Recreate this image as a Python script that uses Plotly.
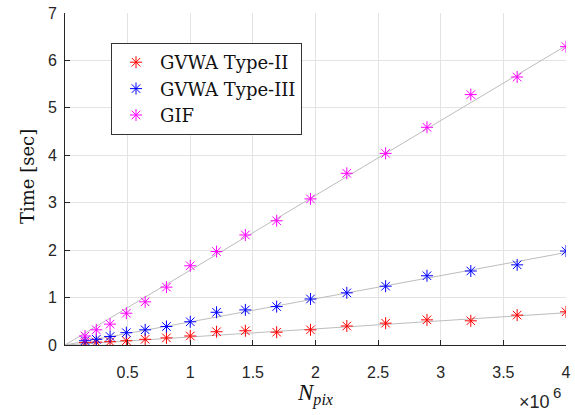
import plotly.graph_objects as go

# Data (N_pix = n^2 pixels)
n_side = [400, 500, 600, 700, 800, 900, 1000, 1100, 1200, 1300, 1400, 1500, 1600, 1700, 1800, 1900, 2000]
n_pix = [n * n for n in n_side]

t_type2 = [0.05, 0.06, 0.07, 0.09, 0.12, 0.15, 0.19, 0.28, 0.30, 0.27, 0.32, 0.40, 0.46, 0.53, 0.51, 0.63, 0.70]
t_type3 = [0.09, 0.12, 0.18, 0.26, 0.32, 0.39, 0.49, 0.69, 0.74, 0.81, 0.97, 1.10, 1.24, 1.46, 1.56, 1.69, 1.98]
t_gif = [0.19, 0.32, 0.44, 0.67, 0.91, 1.22, 1.67, 1.97, 2.32, 2.62, 3.08, 3.62, 4.04, 4.59, 5.28, 5.65, 6.29]

# Linear fit lines (endpoints)
fit_x = [0, 4e6]
fit_type2 = [0.0, 0.68]
fit_type3 = [0.0, 1.95]
fit_gif = [0.0, 6.31]

x_tickvals = [0.5e6, 1e6, 1.5e6, 2e6, 2.5e6, 3e6, 3.5e6, 4e6]
x_ticktext = ["0.5", "1", "1.5", "2", "2.5", "3", "3.5", "4"]
y_tickvals = [0, 1, 2, 3, 4, 5, 6, 7]

fig = go.Figure()

for fy in (fit_type2, fit_type3, fit_gif):
    fig.add_trace(go.Scatter(x=fit_x, y=fy, mode="lines",
                             line=dict(color="#bdbdbd", width=1),
                             showlegend=False, hoverinfo="skip"))

series = [("GVWA Type-II", t_type2, "#ff0000"),
          ("GVWA Type-III", t_type3, "#0000ff"),
          ("GIF", t_gif, "#ff00ff")]
for name, ys, col in series:
    fig.add_trace(go.Scatter(x=n_pix, y=ys, mode="markers", name=name,
                             marker=dict(symbol="asterisk-open", size=10,
                                         color=col, line=dict(color=col, width=1))))

L, R, T, B = 65, 9, 13, 70
W, H = 575, 415
pw, ph = W - L - R, H - T - B

SERIF = "DejaVu Serif, serif"
SANS = "Liberation Sans, Arial, sans-serif"

axis_common = dict(showline=True, linecolor="#262626", linewidth=1,
                   ticks="inside", ticklen=5, tickcolor="#262626",
                   showgrid=True, gridcolor="#e3e3e3", gridwidth=1,
                   zeroline=False, automargin=False,
                   tickfont=dict(family=SANS, size=16, color="#262626"))

fig.update_layout(
    width=W, height=H,
    margin=dict(l=L, r=R, t=T, b=B, autoexpand=False),
    paper_bgcolor="white", plot_bgcolor="white",
    xaxis=dict(range=[0, 4e6], tickvals=x_tickvals, ticktext=x_ticktext,
               ticklabelstandoff=13, **axis_common),
    yaxis=dict(range=[0, 7], tickvals=y_tickvals, ticklabelstandoff=4, **axis_common),
    legend=dict(x=(111 - L) / pw, y=(345 - 43) / ph, xanchor="left", yanchor="top",
                bgcolor="white", bordercolor="#333333", borderwidth=1,
                font=dict(family=SERIF, size=18, color="#111111"),
                itemwidth=38, tracegroupgap=0),
    showlegend=True,
)

fig.add_annotation(text="<i>N</i><sub><i>pix</i></sub>", xref="paper", yref="paper",
                   x=(315 - L) / pw, y=(345 - 394) / ph, xanchor="center", yanchor="middle",
                   showarrow=False,
                   font=dict(family="Liberation Serif, Times New Roman, serif", size=23, color="#111111"))
fig.add_annotation(text="Time [sec]", xref="paper", yref="paper",
                   x=(27 - L) / pw, y=(345 - 177) / ph, xanchor="center", yanchor="middle",
                   textangle=-90, showarrow=False,
                   font=dict(family=SERIF, size=18, color="#111111"))
fig.add_annotation(text="×10", xref="paper", yref="paper",
                   x=(552 - L) / pw, y=(345 - 402) / ph, xanchor="right", yanchor="middle",
                   showarrow=False,
                   font=dict(family=SANS, size=18, color="#262626"))
fig.add_annotation(text="6", xref="paper", yref="paper",
                   x=(551 - L) / pw, y=(345 - 392) / ph, xanchor="left", yanchor="middle",
                   showarrow=False,
                   font=dict(family=SANS, size=15, color="#262626"))

fig.write_html("out.html")
